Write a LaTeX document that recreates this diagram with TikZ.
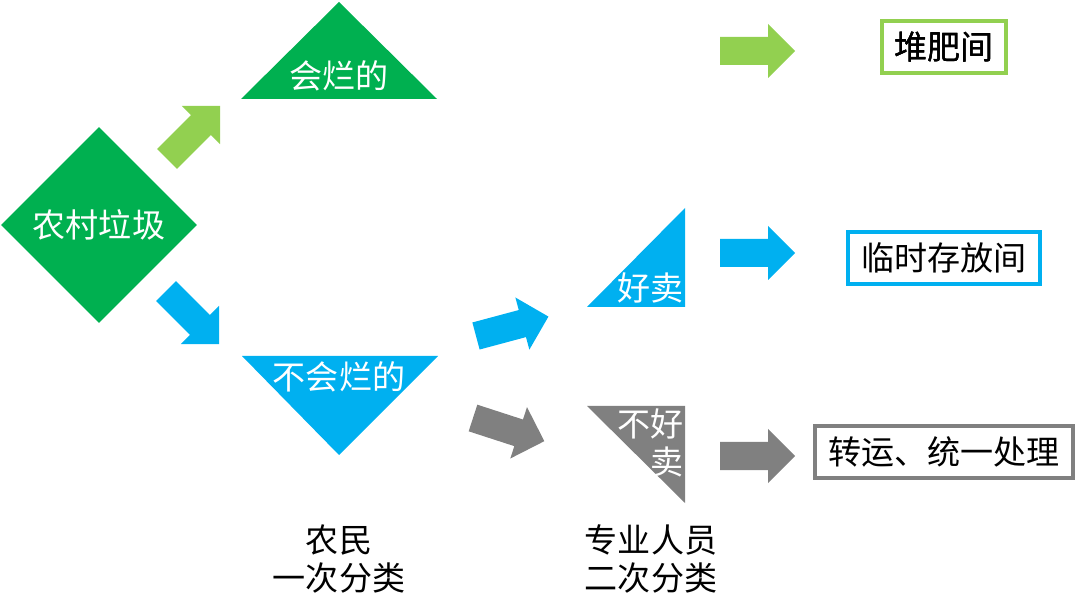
\documentclass[tikz,border=0pt]{standalone}
\usepackage{fontspec}
\setmainfont{Noto Sans CJK SC}
\usepackage{xcolor}
\usetikzlibrary{shapes.geometric}

\definecolor{cGreen}{HTML}{00B050}
\definecolor{cLime}{HTML}{92D050}
\definecolor{cBlue}{HTML}{00B0F0}
\definecolor{cGray}{HTML}{808080}

% block arrow: base point, angle, colour
\newcommand{\fatarrow}[3]{%
  \fill[#3,shift={#1},rotate=#2] (0,-14) -- (48,-14) -- (48,-27) -- (75,0)
    -- (48,27) -- (48,14) -- (0,14) -- cycle;}

\begin{document}
\begin{tikzpicture}[x=0.025cm,y=-0.025cm,
  lbl/.style={font=\fontsize{23.5}{28}\selectfont},
  wlbl/.style={lbl,text=white},
  box/.style={draw,line width=2.2pt,lbl,minimum height=1.3cm,inner sep=0pt}]
  \useasboundingbox (0,0) rectangle (1080,616);
  % start
  \node[diamond,fill=cGreen,minimum width=4.9cm,minimum height=4.9cm,inner sep=0pt,wlbl] (waste) at (99,225) {农村垃圾};
  % first sort
  \fill[cGreen] (339,2) -- (241,99) -- (437,99) -- cycle;
  \node[wlbl] (rot) at (339,76) {会烂的};
  \fill[cBlue] (242,356) -- (438,356) -- (339,455) -- cycle;
  \node[wlbl] (norot) at (339,377) {不会烂的};
  % second sort
  \fill[cBlue] (685,208) -- (587,307) -- (685,307) -- cycle;
  \node[wlbl,anchor=east,inner sep=1pt] (sell) at (685,288) {好卖};
  \fill[cGray] (587,406) -- (685,406) -- (685,503) -- cycle;
  \node[wlbl,anchor=east,align=right,inner sep=1pt,font=\fontsize{23.5}{27.5}\selectfont] (nosell) at (685,443) {不好\\卖};
  % arrows
  \fatarrow{(167,159)}{45}{cLime}
  \fatarrow{(166,291)}{-45}{cBlue}
  \fatarrow{(476,336)}{15}{cBlue}
  \fatarrow{(473,418)}{-18}{cGray}
  \foreach \y/\col in {51/cLime,253/cBlue,456/cGray}
    \fatarrow{(720,\y)}{0}{\col}
  % destinations
  \node[box,draw=cLime,minimum width=3.1cm] (compost) at (944,47) {堆肥间};
  \node[box,draw=cBlue,minimum width=4.8cm] (store) at (944,258) {临时存放间};
  \node[box,draw=cGray,minimum width=6.45cm] (transfer) at (944,452) {转运、统一处理};
  % captions
  \node[lbl,align=center,font=\fontsize{23.5}{26.5}\selectfont] (farmer) at (339,559) {农民\\一次分类};
  \node[lbl,align=center,font=\fontsize{23.5}{26.5}\selectfont] (staff) at (651,559) {专业人员\\二次分类};
\end{tikzpicture}
\end{document}
